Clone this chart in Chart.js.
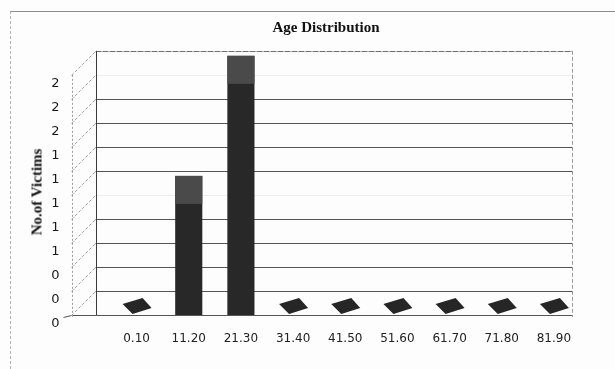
<!DOCTYPE html>
<html>
<head>
<meta charset="utf-8">
<script src="https://cdn.jsdelivr.net/npm/chart.js@4/dist/chart.umd.min.js"></script>
<style>
  html, body { margin: 0; padding: 0; background: #ffffff; }
  #wrap { position: relative; width: 615px; height: 369px; overflow: hidden; background: #fdfdfd; }
  #frame { position: absolute; left: 10px; top: 11px; width: 605px; height: 358px;
           border-top: 1px solid #8c8c8c; border-left: 1px dashed #b4b4b4; box-sizing: border-box; }
  #chart { position: absolute; left: 0; top: 0; }
  .ttl { position: absolute; font-family: "Liberation Serif", "DejaVu Serif", serif; font-weight: 600;
         font-size: 15px; color: #111111; white-space: nowrap; }
  #mainTitle { left: 326px; top: 27px; transform: translate(-50%, -50%); }
  #yTitle { left: 37px; top: 192px; transform: translate(-50%, -50%) rotate(-90deg); }
</style>
</head>
<body>
<div id="wrap">
  <div id="frame"></div>
  <canvas id="chart" width="615" height="369"></canvas>
  <div class="ttl" id="mainTitle">Age Distribution</div>
  <div class="ttl" id="yTitle">No.of Victims</div>
</div>
<script>
// Age bands and number of victims in each
const ageGroups = ['0.10', '11.20', '21.30', '31.40', '41.50', '51.60', '61.70', '71.80', '81.90'];
const victims = [0, 1, 2, 0, 0, 0, 0, 0, 0];

// Value axis: 0 to 2.2 in steps of 0.2, labels shown as whole numbers
const yMin = 0;
const yMax = 2.2;
const yStep = 0.2;

const DEPTH_X = 24;   // horizontal depth of the side wall
const DEPTH_Y = 24;   // vertical drop from back wall to front edge

// Back wall, gridlines and side wall drawn behind the bars
const wallPlugin = {
  id: 'wall',
  beforeDatasetsDraw(chart) {
    const { ctx, chartArea: area } = chart;
    const ys = chart.scales.y;
    const wallLeft = area.left - 15;
    const wallRight = area.right - 8;
    const frontX = wallLeft - DEPTH_X;
    const top = ys.getPixelForValue(yMax);
    const bottom = ys.getPixelForValue(yMin);
    ctx.save();
    ctx.lineWidth = 1;

    ys.ticks.forEach(t => {
      const v = t.value;
      const py = Math.round(ys.getPixelForValue(v)) + 0.5;
      // side-wall diagonals
      if (v > 0.01) {
        ctx.strokeStyle = '#a0a0a0';
        ctx.setLineDash([3, 2]);
        ctx.beginPath();
        ctx.moveTo(frontX, py + DEPTH_Y);
        ctx.lineTo(wallLeft, py);
        ctx.stroke();
      }
      ctx.setLineDash([]);
      if (v < 0.01) {
        // floor edge
        ctx.strokeStyle = '#555555';
        ctx.beginPath();
        ctx.moveTo(frontX - 8, py + 2);
        ctx.lineTo(frontX, py);
        ctx.lineTo(wallRight, py);
        ctx.stroke();
      } else if (v > yMax - 0.01) {
        ctx.strokeStyle = '#6f6f6f';
        ctx.setLineDash([6, 1]);
        ctx.beginPath();
        ctx.moveTo(wallLeft, py);
        ctx.lineTo(wallRight, py);
        ctx.stroke();
        ctx.setLineDash([]);
      } else {
        const whole = Math.abs(v - Math.round(v)) < 0.01;
        ctx.strokeStyle = whole ? '#ededed' : '#555555';
        ctx.beginPath();
        ctx.moveTo(wallLeft, py);
        ctx.lineTo(wallRight, py);
        ctx.stroke();
      }
    });

    // left edge of the back wall
    ctx.strokeStyle = '#3a3a3a';
    ctx.beginPath();
    ctx.moveTo(Math.round(wallLeft) + 0.5, top);
    ctx.lineTo(Math.round(wallLeft) + 0.5, bottom);
    ctx.stroke();

    // right edge of the back wall
    ctx.strokeStyle = '#9a9a9a';
    ctx.setLineDash([4, 2]);
    ctx.beginPath();
    ctx.moveTo(Math.round(wallRight) + 0.5, top);
    ctx.lineTo(Math.round(wallRight) + 0.5, bottom + 2);
    ctx.stroke();

    // front value-axis line
    ctx.strokeStyle = '#9c9c9c';
    ctx.setLineDash([2, 2]);
    ctx.beginPath();
    ctx.moveTo(Math.round(frontX) + 0.5, top + DEPTH_Y);
    ctx.lineTo(Math.round(frontX) + 0.5, bottom + 3);
    ctx.stroke();
    ctx.restore();
  }
};

// Top faces of the bars (flat tiles where a band has no victims)
const barTopPlugin = {
  id: 'barTops',
  afterDatasetsDraw(chart) {
    const { ctx } = chart;
    const meta = chart.getDatasetMeta(0);
    ctx.save();
    meta.data.forEach((bar, i) => {
      const { x, y, width } = bar.getProps(['x', 'y', 'width'], true);
      const v = victims[i];
      if (v === 0) {
        ctx.fillStyle = '#262626';
        ctx.beginPath();
        ctx.moveTo(x - 14, y - 11);
        ctx.lineTo(x + 6, y - 17);
        ctx.lineTo(x + 15, y - 7);
        ctx.lineTo(x - 4, y - 1);
        ctx.closePath();
        ctx.fill();
      } else {
        ctx.fillStyle = '#282828';
        ctx.fillRect(x - width / 2, y - 19, width, 19);
        ctx.fillStyle = '#4a4a4a';
        ctx.fillRect(x - width / 2, y - 19, width, 28);
      }
    });
    ctx.restore();
  }
};

new Chart(document.getElementById('chart'), {
  type: 'bar',
  data: {
    labels: ageGroups,
    datasets: [{
      label: 'No.of Victims',
      data: victims,
      backgroundColor: '#282828',
      borderWidth: 0,
      barPercentage: 0.52,
      categoryPercentage: 1.0
    }]
  },
  options: {
    responsive: false,
    animation: false,
    layout: { padding: { left: 20, right: 35, top: 50, bottom: 0 } },
    plugins: {
      legend: { display: false },
      title: { display: false },
      tooltip: { enabled: false }
    },
    scales: {
      x: {
        grid: { display: false },
        border: { display: false },
        ticks: {
          color: '#222222',
          font: { family: 'DejaVu Sans', size: 12 },
          padding: 9,
          maxRotation: 0,
          autoSkip: false
        },
        afterFit(scale) { scale.height = 54; }
      },
      y: {
        min: yMin,
        max: yMax,
        grid: { display: false },
        border: { display: false },
        ticks: {
          stepSize: yStep,
          autoSkip: false,
          color: '#1a1a1a',
          font: { family: 'DejaVu Sans', size: 13 },
          padding: 43,
          labelOffset: 9,
          callback(value) {
            if (value > yMax - 0.1) return '';
            return String(Math.round(value));
          }
        },
        afterFit(scale) { scale.width = 90.5; }
      }
    }
  },
  plugins: [wallPlugin, barTopPlugin]
});
</script>
</body>
</html>
